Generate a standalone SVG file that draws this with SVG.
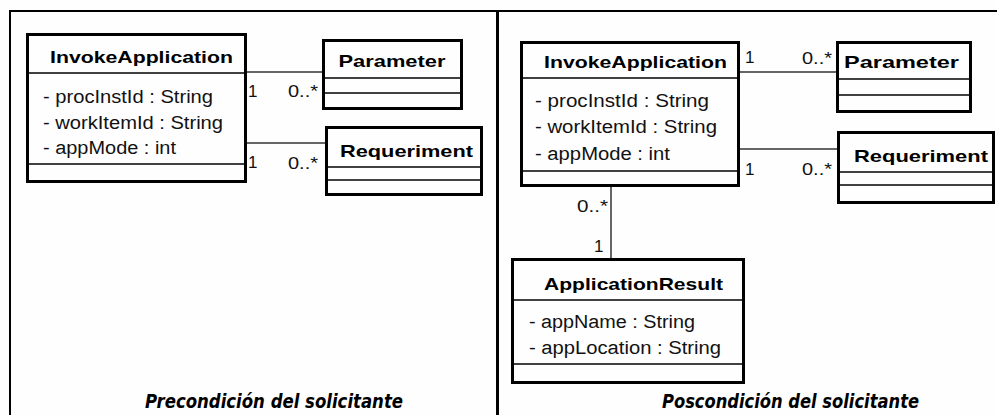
<svg xmlns="http://www.w3.org/2000/svg" width="997" height="415" viewBox="0 0 997 415">
<style>
.bg{fill:#fefefe}
.frame{stroke:#000;fill:none}
.box{fill:#fefefe;stroke:#000;stroke-width:3}
.div{stroke:#000;stroke-width:1.5}
.conn{stroke:#333;stroke-width:1.5;fill:none}
.title{font-family:"Liberation Sans",Arial,sans-serif;font-weight:bold;font-size:17px;fill:#000;text-anchor:middle}
.attr{font-family:"Liberation Sans",Arial,sans-serif;font-size:18px;fill:#111}
.lbl{font-family:"Liberation Sans",Arial,sans-serif;font-size:17px;fill:#111}
.cap{font-family:"DejaVu Sans Condensed","Liberation Sans",sans-serif;font-weight:bold;font-style:italic;font-size:20px;fill:#000}
</style>
<rect class="bg" x="0" y="0" width="997" height="415"/>
<g id="frame">
<line class="frame" x1="9" y1="11" x2="997" y2="11" stroke-width="2"/>
<line class="frame" x1="10" y1="10" x2="10" y2="415" stroke-width="2"/>
<line class="frame" x1="497.5" y1="10" x2="497.5" y2="415" stroke-width="3"/>
</g>
<g id="connectors">
<line class="conn" x1="247" y1="72" x2="322" y2="72"/>
<line class="conn" x1="247" y1="143" x2="325" y2="143"/>
<text class="lbl" x="248" y="97">1</text>
<text class="lbl" x="288" y="97" textLength="30" lengthAdjust="spacingAndGlyphs">0..*</text>
<text class="lbl" x="248" y="168">1</text>
<text class="lbl" x="288" y="169" textLength="30" lengthAdjust="spacingAndGlyphs">0..*</text>
<line class="conn" x1="740" y1="72" x2="836" y2="72"/>
<line class="conn" x1="740" y1="149" x2="837" y2="149"/>
<line class="conn" x1="611" y1="187" x2="611" y2="258"/>
<text class="lbl" x="745" y="63">1</text>
<text class="lbl" x="802" y="64" textLength="30" lengthAdjust="spacingAndGlyphs">0..*</text>
<text class="lbl" x="745" y="175">1</text>
<text class="lbl" x="802" y="175" textLength="30" lengthAdjust="spacingAndGlyphs">0..*</text>
<text class="lbl" x="577" y="212" textLength="31" lengthAdjust="spacingAndGlyphs">0..*</text>
<text class="lbl" x="594" y="252">1</text>
</g>
<g id="pre-invokeapplication">
<rect class="box" x="27.5" y="34.5" width="218" height="147"/>
<line class="div" x1="27.5" y1="73" x2="245.5" y2="73"/>
<line class="div" x1="27.5" y1="164" x2="245.5" y2="164"/>
<text class="title" x="141.5" y="63" textLength="183" lengthAdjust="spacingAndGlyphs">InvokeApplication</text>
<text class="attr" x="43" y="103" textLength="170" lengthAdjust="spacingAndGlyphs">- procInstId : String</text>
<text class="attr" x="43" y="129" textLength="180" lengthAdjust="spacingAndGlyphs">- workItemId : String</text>
<text class="attr" x="43" y="154" textLength="133" lengthAdjust="spacingAndGlyphs">- appMode : int</text>
</g>
<g id="pre-parameter">
<rect class="box" x="323.5" y="40.5" width="138" height="68"/>
<line class="div" x1="323.5" y1="78" x2="461.5" y2="78"/>
<line class="div" x1="323.5" y1="93" x2="461.5" y2="93"/>
<text class="title" x="392" y="67" textLength="107" lengthAdjust="spacingAndGlyphs">Parameter</text>
</g>
<g id="pre-requeriment">
<rect class="box" x="326.5" y="127.5" width="155" height="67"/>
<line class="div" x1="326.5" y1="167" x2="481.5" y2="167"/>
<line class="div" x1="326.5" y1="180" x2="481.5" y2="180"/>
<text class="title" x="406.5" y="157" textLength="133" lengthAdjust="spacingAndGlyphs">Requeriment</text>
</g>
<g id="post-invokeapplication">
<rect class="box" x="521.5" y="42.5" width="217" height="143"/>
<line class="div" x1="521.5" y1="78" x2="738.5" y2="78"/>
<line class="div" x1="521.5" y1="171" x2="738.5" y2="171"/>
<text class="title" x="635.5" y="68" textLength="183" lengthAdjust="spacingAndGlyphs">InvokeApplication</text>
<text class="attr" x="535" y="107" textLength="174" lengthAdjust="spacingAndGlyphs">- procInstId : String</text>
<text class="attr" x="535" y="133" textLength="182" lengthAdjust="spacingAndGlyphs">- workItemId : String</text>
<text class="attr" x="535" y="160" textLength="135" lengthAdjust="spacingAndGlyphs">- appMode : int</text>
</g>
<g id="post-parameter">
<rect class="box" x="837.5" y="42.5" width="133" height="69"/>
<line class="div" x1="837.5" y1="79" x2="970.5" y2="79"/>
<line class="div" x1="837.5" y1="95" x2="970.5" y2="95"/>
<text class="title" x="901.5" y="68" textLength="115" lengthAdjust="spacingAndGlyphs">Parameter</text>
</g>
<g id="post-requeriment">
<rect class="box" x="838.5" y="132.5" width="155" height="70"/>
<line class="div" x1="838.5" y1="172" x2="993.5" y2="172"/>
<line class="div" x1="838.5" y1="185" x2="993.5" y2="185"/>
<text class="title" x="921" y="162" textLength="134" lengthAdjust="spacingAndGlyphs">Requeriment</text>
</g>
<g id="post-applicationresult">
<rect class="box" x="512.5" y="259.5" width="231" height="123"/>
<line class="div" x1="512.5" y1="300" x2="743.5" y2="300"/>
<line class="div" x1="512.5" y1="364" x2="743.5" y2="364"/>
<text class="title" x="633.5" y="290" textLength="179" lengthAdjust="spacingAndGlyphs">ApplicationResult</text>
<text class="attr" x="529" y="328" textLength="166" lengthAdjust="spacingAndGlyphs">- appName : String</text>
<text class="attr" x="529" y="354" textLength="192" lengthAdjust="spacingAndGlyphs">- appLocation : String</text>
</g>
<g id="captions">
<text class="cap" x="145" y="408" textLength="258" lengthAdjust="spacingAndGlyphs">Precondición del solicitante</text>
<text class="cap" x="662" y="408" textLength="257" lengthAdjust="spacingAndGlyphs">Poscondición del solicitante</text>
</g>
</svg>
